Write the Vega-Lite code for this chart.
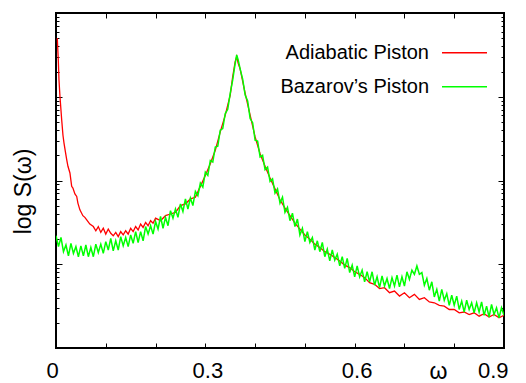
{
  "$schema": "https://vega.github.io/schema/vega-lite/v6.json",
  "width": 448,
  "height": 335,
  "autosize": "none",
  "padding": {"left": 56, "top": 13, "right": 22, "bottom": 35},
  "background": "white",
  "config": {
    "font": "Liberation Sans",
    "view": {"stroke": "black", "strokeWidth": 2},
    "axis": {"grid": false, "domain": false, "tickColor": "black", "tickWidth": 1, "labelColor": "black", "titleColor": "black", "titleFontWeight": "normal"}
  },
  "datasets": {
    "adiabatic": [
      {"w":0.0026,"logS":3.70},{"w":0.0046,"logS":3.44},{"w":0.006,"logS":3.20},{"w":0.008,"logS":3.00},{"w":0.0115,"logS":2.72},{"w":0.014,"logS":2.54},{"w":0.016,"logS":2.45},{"w":0.019,"logS":2.34},{"w":0.0215,"logS":2.25},{"w":0.024,"logS":2.17},{"w":0.028,"logS":2.09},{"w":0.0315,"logS":1.93},{"w":0.034,"logS":1.91},{"w":0.038,"logS":1.84},{"w":0.0416,"logS":1.81},{"w":0.044,"logS":1.73},{"w":0.048,"logS":1.65},{"w":0.054,"logS":1.58},{"w":0.058,"logS":1.56},{"w":0.0617,"logS":1.53},{"w":0.068,"logS":1.48},{"w":0.075,"logS":1.45},
      {"w":0.080,"logS":1.40},{"w":0.085,"logS":1.45},{"w":0.090,"logS":1.38},{"w":0.095,"logS":1.43},{"w":0.100,"logS":1.36},{"w":0.105,"logS":1.42},{"w":0.110,"logS":1.37},{"w":0.115,"logS":1.34},{"w":0.120,"logS":1.38},{"w":0.125,"logS":1.33},{"w":0.130,"logS":1.39},{"w":0.135,"logS":1.35},{"w":0.140,"logS":1.40},{"w":0.145,"logS":1.36},{"w":0.150,"logS":1.43},{"w":0.155,"logS":1.39},{"w":0.160,"logS":1.45},{"w":0.165,"logS":1.41},{"w":0.170,"logS":1.48},{"w":0.175,"logS":1.44},{"w":0.180,"logS":1.50},{"w":0.185,"logS":1.46},{"w":0.190,"logS":1.52},{"w":0.195,"logS":1.49},{"w":0.200,"logS":1.55},{"w":0.210,"logS":1.52},{"w":0.220,"logS":1.58},{"w":0.230,"logS":1.60},{"w":0.240,"logS":1.62},{"w":0.250,"logS":1.70},{"w":0.260,"logS":1.72},{"w":0.270,"logS":1.78},{"w":0.280,"logS":1.80},
      {"w":0.290,"logS":1.93},{"w":0.300,"logS":2.06},{"w":0.310,"logS":2.20},{"w":0.320,"logS":2.36},{"w":0.330,"logS":2.58},{"w":0.340,"logS":2.78},{"w":0.350,"logS":3.02},{"w":0.355,"logS":3.24},{"w":0.360,"logS":3.42},{"w":0.363,"logS":3.48},{"w":0.366,"logS":3.40},{"w":0.370,"logS":3.33},{"w":0.380,"logS":3.04},{"w":0.390,"logS":2.78},{"w":0.400,"logS":2.52},{"w":0.410,"logS":2.32},{"w":0.420,"logS":2.17},{"w":0.430,"logS":2.03},{"w":0.440,"logS":1.90},{"w":0.450,"logS":1.77},{"w":0.460,"logS":1.67},{"w":0.470,"logS":1.58},{"w":0.480,"logS":1.49},{"w":0.490,"logS":1.42},{"w":0.500,"logS":1.35},{"w":0.510,"logS":1.30},{"w":0.520,"logS":1.24},{"w":0.530,"logS":1.20},{"w":0.540,"logS":1.15},{"w":0.550,"logS":1.12},{"w":0.560,"logS":1.08},{"w":0.570,"logS":1.04},{"w":0.580,"logS":0.99},{"w":0.590,"logS":0.96},{"w":0.600,"logS":0.91},{"w":0.610,"logS":0.88},{"w":0.620,"logS":0.84},{"w":0.630,"logS":0.78},{"w":0.640,"logS":0.76},{"w":0.650,"logS":0.71},{"w":0.660,"logS":0.72},{"w":0.670,"logS":0.66},{"w":0.680,"logS":0.68},{"w":0.690,"logS":0.62},{"w":0.700,"logS":0.66},{"w":0.710,"logS":0.60},{"w":0.720,"logS":0.64},{"w":0.730,"logS":0.58},{"w":0.740,"logS":0.60},{"w":0.750,"logS":0.55},{"w":0.760,"logS":0.54},{"w":0.770,"logS":0.51},{"w":0.780,"logS":0.50},{"w":0.790,"logS":0.46},{"w":0.800,"logS":0.46},{"w":0.810,"logS":0.42},{"w":0.820,"logS":0.43},{"w":0.830,"logS":0.40},{"w":0.840,"logS":0.42},{"w":0.850,"logS":0.38},{"w":0.860,"logS":0.41},{"w":0.870,"logS":0.37},{"w":0.880,"logS":0.40},{"w":0.890,"logS":0.36},{"w":0.900,"logS":0.39}
    ],
    "bazarov": [
      {"w":0.000,"logS":1.34},{"w":0.005,"logS":1.21},{"w":0.010,"logS":1.32},{"w":0.015,"logS":1.15},{"w":0.020,"logS":1.23},{"w":0.025,"logS":1.10},{"w":0.030,"logS":1.25},{"w":0.035,"logS":1.13},{"w":0.040,"logS":1.21},{"w":0.045,"logS":1.09},{"w":0.050,"logS":1.22},{"w":0.055,"logS":1.10},{"w":0.060,"logS":1.23},{"w":0.065,"logS":1.09},{"w":0.070,"logS":1.20},{"w":0.075,"logS":1.09},{"w":0.080,"logS":1.24},{"w":0.085,"logS":1.14},{"w":0.090,"logS":1.24},{"w":0.095,"logS":1.13},{"w":0.100,"logS":1.27},{"w":0.105,"logS":1.17},{"w":0.110,"logS":1.31},{"w":0.115,"logS":1.16},{"w":0.120,"logS":1.28},{"w":0.125,"logS":1.17},{"w":0.130,"logS":1.33},{"w":0.135,"logS":1.22},{"w":0.140,"logS":1.32},{"w":0.145,"logS":1.21},{"w":0.150,"logS":1.35},{"w":0.155,"logS":1.25},{"w":0.160,"logS":1.39},{"w":0.165,"logS":1.26},{"w":0.170,"logS":1.39},{"w":0.175,"logS":1.28},{"w":0.180,"logS":1.45},{"w":0.185,"logS":1.36},{"w":0.190,"logS":1.46},{"w":0.195,"logS":1.36},{"w":0.200,"logS":1.51},{"w":0.205,"logS":1.42},{"w":0.210,"logS":1.57},{"w":0.215,"logS":1.43},{"w":0.220,"logS":1.56},{"w":0.225,"logS":1.46},{"w":0.230,"logS":1.64},{"w":0.235,"logS":1.55},{"w":0.240,"logS":1.66},{"w":0.245,"logS":1.56},{"w":0.250,"logS":1.72},{"w":0.255,"logS":1.63},{"w":0.260,"logS":1.78},{"w":0.265,"logS":1.66},{"w":0.270,"logS":1.79},{"w":0.275,"logS":1.70},{"w":0.280,"logS":1.87},{"w":0.285,"logS":1.82},{"w":0.290,"logS":1.97},{"w":0.295,"logS":1.92},{"w":0.300,"logS":2.10},{"w":0.305,"logS":2.06},{"w":0.310,"logS":2.24},{"w":0.315,"logS":2.22},{"w":0.320,"logS":2.40},{"w":0.325,"logS":2.41},{"w":0.330,"logS":2.60},{"w":0.335,"logS":2.62},{"w":0.340,"logS":2.80},{"w":0.345,"logS":2.85},{"w":0.350,"logS":3.04},{"w":0.355,"logS":3.20},{"w":0.360,"logS":3.40},{"w":0.363,"logS":3.50},{"w":0.366,"logS":3.44},{"w":0.370,"logS":3.33},{"w":0.375,"logS":3.21},{"w":0.380,"logS":3.02},{"w":0.385,"logS":2.95},{"w":0.390,"logS":2.74},{"w":0.395,"logS":2.69},{"w":0.400,"logS":2.48},{"w":0.405,"logS":2.47},{"w":0.410,"logS":2.28},{"w":0.415,"logS":2.30},{"w":0.420,"logS":2.13},{"w":0.425,"logS":2.16},{"w":0.430,"logS":1.99},{"w":0.435,"logS":2.02},{"w":0.440,"logS":1.85},{"w":0.445,"logS":1.90},{"w":0.450,"logS":1.73},{"w":0.455,"logS":1.80},{"w":0.460,"logS":1.62},{"w":0.465,"logS":1.68},{"w":0.470,"logS":1.52},{"w":0.475,"logS":1.61},{"w":0.480,"logS":1.45},{"w":0.485,"logS":1.54},{"w":0.490,"logS":1.35},{"w":0.495,"logS":1.43},{"w":0.500,"logS":1.27},{"w":0.505,"logS":1.39},{"w":0.510,"logS":1.26},{"w":0.515,"logS":1.32},{"w":0.520,"logS":1.17},{"w":0.525,"logS":1.28},{"w":0.530,"logS":1.15},{"w":0.535,"logS":1.26},{"w":0.540,"logS":1.09},{"w":0.545,"logS":1.18},{"w":0.550,"logS":1.04},{"w":0.555,"logS":1.17},{"w":0.560,"logS":1.05},{"w":0.565,"logS":1.12},{"w":0.570,"logS":0.98},{"w":0.575,"logS":1.09},{"w":0.580,"logS":0.95},{"w":0.585,"logS":1.07},{"w":0.590,"logS":0.90},{"w":0.595,"logS":0.99},{"w":0.600,"logS":0.85},{"w":0.605,"logS":0.98},{"w":0.610,"logS":0.85},{"w":0.615,"logS":0.93},{"w":0.620,"logS":0.79},{"w":0.625,"logS":0.91},{"w":0.630,"logS":0.79},{"w":0.635,"logS":0.91},{"w":0.640,"logS":0.75},{"w":0.645,"logS":0.85},{"w":0.650,"logS":0.72},{"w":0.655,"logS":0.86},{"w":0.660,"logS":0.74},{"w":0.665,"logS":0.83},{"w":0.670,"logS":0.71},{"w":0.675,"logS":0.84},{"w":0.680,"logS":0.74},{"w":0.685,"logS":0.87},{"w":0.690,"logS":0.73},{"w":0.695,"logS":0.85},{"w":0.700,"logS":0.74},{"w":0.705,"logS":0.91},{"w":0.710,"logS":0.82},{"w":0.715,"logS":0.93},{"w":0.720,"logS":0.88},{"w":0.725,"logS":0.98},{"w":0.730,"logS":0.88},{"w":0.735,"logS":0.90},{"w":0.740,"logS":0.75},{"w":0.745,"logS":0.83},{"w":0.750,"logS":0.69},{"w":0.755,"logS":0.79},{"w":0.760,"logS":0.61},{"w":0.765,"logS":0.70},{"w":0.770,"logS":0.56},{"w":0.775,"logS":0.70},{"w":0.780,"logS":0.57},{"w":0.785,"logS":0.65},{"w":0.790,"logS":0.51},{"w":0.795,"logS":0.63},{"w":0.800,"logS":0.51},{"w":0.805,"logS":0.62},{"w":0.810,"logS":0.46},{"w":0.815,"logS":0.56},{"w":0.820,"logS":0.43},{"w":0.825,"logS":0.57},{"w":0.830,"logS":0.46},{"w":0.835,"logS":0.54},{"w":0.840,"logS":0.42},{"w":0.845,"logS":0.54},{"w":0.850,"logS":0.43},{"w":0.855,"logS":0.55},{"w":0.860,"logS":0.39},{"w":0.865,"logS":0.50},{"w":0.870,"logS":0.37},{"w":0.875,"logS":0.52},{"w":0.880,"logS":0.40},{"w":0.885,"logS":0.48},{"w":0.890,"logS":0.36},{"w":0.895,"logS":0.48},{"w":0.900,"logS":0.39}
    ]
  },
  "layer": [
    {
      "data": {"name": "adiabatic"},
      "mark": {"type": "line", "strokeWidth": 1.3, "clip": true},
      "encoding": {
        "x": {"field": "w", "type": "quantitative",
          "scale": {"domain": [0, 0.9], "nice": false, "zero": false},
          "axis": {"orient": "bottom", "values": [0,0.1,0.2,0.3,0.4,0.5,0.6,0.7,0.8,0.9],
            "tickSize": -5, "labelFontSize": 22, "labelPadding": 17, "labelFlush": false,
            "labelAlign": {"condition": {"test": "datum.value > 0.85", "value": "right"}, "value": "center"},
            "labelOffset": {"condition": [{"test": "datum.value < 0.05", "value": -4}, {"test": "datum.value > 0.85", "value": 4}], "value": 2},
            "labelExpr": "round(datum.value*10) % 3 == 0 ? (round(datum.value*10) == 0 ? '0' : format(datum.value, '.1f')) : ''",
            "title": "ω", "titleFontSize": 23, "titleX": 382, "titleY": 30, "titleBaseline": "alphabetic", "titleAlign": "center"}},
        "y": {"field": "logS", "type": "quantitative",
          "scale": {"domain": [0, 4], "nice": false, "zero": false},
          "axis": {"orient": "left", "labels": false,
            "values": [0,0.30103,0.47712,0.60206,0.69897,0.77815,0.8451,0.90309,0.95424,1,1.30103,1.47712,1.60206,1.69897,1.77815,1.8451,1.90309,1.95424,2,2.30103,2.47712,2.60206,2.69897,2.77815,2.8451,2.90309,2.95424,3,3.30103,3.47712,3.60206,3.69897,3.77815,3.8451,3.90309,3.95424,4],
            "tickSize": {"condition": {"test": "abs(datum.value - round(datum.value)) < 0.001", "value": -6}, "value": -3},
            "title": "log  S(ω)", "titleFontSize": 23, "titleX": -26, "titleY": 178, "titleAlign": "center", "titleBaseline": "alphabetic", "titleAngle": -90}},
        "color": {"datum": "Adiabatic Piston", "type": "nominal",
          "scale": {"domain": ["Adiabatic Piston", "Bazarov’s Piston"], "range": ["#ff0000", "#00ff00"]},
          "legend": {"title": null, "orient": "none", "legendX": 385, "legendY": 16.2, "padding": 0,
            "symbolType": "stroke", "symbolSize": 2025, "symbolStrokeWidth": 1.5,
            "labelFontSize": 20, "labelColor": "black", "labelAlign": "right", "labelOffset": -59, "rowPadding": -17.7}}
      }
    },
    {
      "data": {"name": "bazarov"},
      "mark": {"type": "line", "strokeWidth": 1.5, "clip": true},
      "encoding": {
        "x": {"field": "w", "type": "quantitative",
          "axis": {"orient": "top", "values": [0,0.1,0.2,0.3,0.4,0.5,0.6,0.7,0.8,0.9], "tickSize": -5, "labels": false, "title": null}},
        "y": {"field": "logS", "type": "quantitative",
          "axis": {"orient": "right", "labels": false, "title": null,
            "values": [0,0.30103,0.47712,0.60206,0.69897,0.77815,0.8451,0.90309,0.95424,1,1.30103,1.47712,1.60206,1.69897,1.77815,1.8451,1.90309,1.95424,2,2.30103,2.47712,2.60206,2.69897,2.77815,2.8451,2.90309,2.95424,3,3.30103,3.47712,3.60206,3.69897,3.77815,3.8451,3.90309,3.95424,4],
            "tickSize": {"condition": {"test": "abs(datum.value - round(datum.value)) < 0.001", "value": -6}, "value": -3}}},
        "color": {"datum": "Bazarov’s Piston", "type": "nominal"}
      }
    }
  ],
  "resolve": {"scale": {"x": "shared", "y": "shared", "color": "shared"}, "axis": {"x": "independent", "y": "independent"}}
}
